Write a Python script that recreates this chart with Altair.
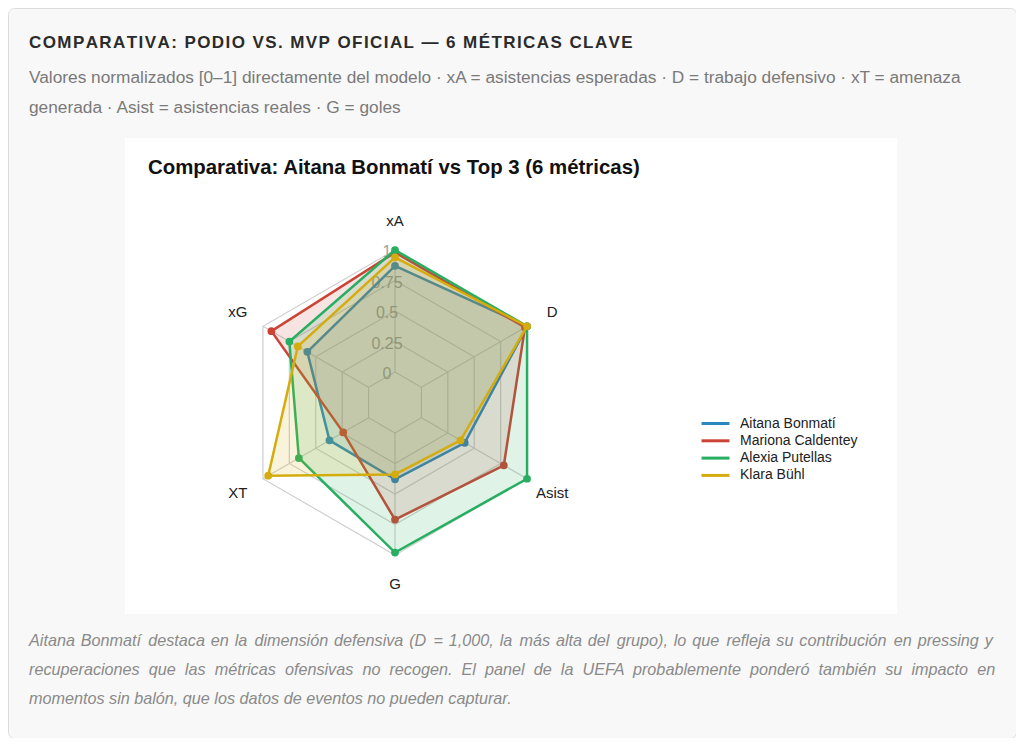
import altair as alt
import pandas as pd

# ---------------- data ----------------
metrics = ["xA", "D", "Asist", "G", "XT", "xG"]
players = ["Aitana Bonmatí", "Mariona Caldentey", "Alexia Putellas", "Klara Bühl"]
aitana = [0.87, 1.00, 0.41, 0.38, 0.37, 0.58]
mariona = [0.98, 0.98, 0.78, 0.71, 0.24, 0.92]
alexia = [1.00, 1.00, 1.00, 0.98, 0.66, 0.75]
klara = [0.94, 1.00, 0.37, 0.34, 0.95, 0.67]
colors = ["#2E86C1", "#CB4335", "#27AE60", "#D4AC0D"]
grid_levels = [0, 0.25, 0.5, 0.75, 1]
tick_labels = ["0", "0.25", "0.5", "0.75", "1"]

header = "COMPARATIVA: PODIO VS. MVP OFICIAL — 6 MÉTRICAS CLAVE"
subtitle = [
    "Valores normalizados [0–1] directamente del modelo · xA = asistencias esperadas · D = trabajo defensivo · xT = amenaza",
    "generada · Asist = asistencias reales · G = goles",
]
chart_title = "Comparativa: Aitana Bonmatí vs Top 3 (6 métricas)"
caption = [
    "Aitana Bonmatí destaca en la dimensión defensiva (D = 1,000, la más alta del grupo), lo que refleja su contribución en pressing y",
    "recuperaciones que las métricas ofensivas no recogen. El panel de la UEFA probablemente ponderó también su impacto en",
    "momentos sin balón, que los datos de eventos no pueden capturar.",
]

HAIR, THIN = "\u200a", "\u2009"
header_spaced = HAIR.join(header)          # emulates CSS letter-spacing


def widen(line, extra, every_other_extra=""):
    words = line.split(" ")
    out = words[0]
    for k, w in enumerate(words[1:]):
        gap = " " + extra + (every_other_extra if k % 3 == 1 else "")
        out += gap + w
    return out


caption_just = [                             # emulates justified text
    widen(caption[0], HAIR, HAIR),
    widen(caption[1], THIN + HAIR),
    caption[2],
]

series = dict(zip(players, [aitana, mariona, alexia, klara]))
n = len(metrics)
rows = []
for p, vals in series.items():
    for i in range(n + 1):
        rows.append({"player": p, "metric": metrics[i % n], "idx": i, "value": vals[i % n]})
df = pd.DataFrame(rows)

grid_df = pd.DataFrame([{"level": lv, "idx": i} for lv in grid_levels for i in range(n + 1)])
spoke_df = pd.DataFrame({"idx": list(range(n))})
tick_df = pd.DataFrame({"level": grid_levels, "label": tick_labels})
axis_df = pd.DataFrame({"metric": metrics, "idx": list(range(n))})
one = pd.DataFrame({"k": [0]})

R_MIN, R_MAX = -0.25, 1.0
FONT = "Liberation Sans"


def rad(field):
    return f"({field} - ({R_MIN})) / {R_MAX - R_MIN}"


xs = alt.Scale(domain=[-1, 1], range=[234.5, 539.5])
ys = alt.Scale(domain=[-1, 1], range=[547, 242])
X = alt.X("px:Q", scale=xs, axis=None)
Y = alt.Y("py:Q", scale=ys, axis=None)
X2 = alt.X2("px2:Q")
Y2 = alt.Y2("py2:Q")

# ---------------- decorations ----------------
white_box = alt.Chart(one).mark_rect(color="white").encode(
    x=alt.value(117), x2=alt.value(889), y=alt.value(130), y2=alt.value(606)
)

head_txt = alt.Chart(one).mark_text(
    align="left", baseline="alphabetic", font=FONT, fontSize=17, fontWeight="bold", color="#2b2b2b"
).encode(x=alt.value(21), y=alt.value(40), text=alt.value(header_spaced))

sub_txt = alt.Chart(one).mark_text(
    align="left", baseline="alphabetic", font=FONT, fontSize=17.3, color="#7a7a7a", lineHeight=30
).encode(x=alt.value(21), y=alt.value(75), text=alt.value(subtitle))

title_txt = alt.Chart(one).mark_text(
    align="left", baseline="alphabetic", font=FONT, fontSize=20.4, fontWeight="bold", color="#111111"
).encode(x=alt.value(140), y=alt.value(166), text=alt.value(chart_title))

cap_txt = alt.Chart(one).mark_text(
    align="left", baseline="alphabetic", font=FONT, fontSize=16.2, fontStyle="italic", color="#8a8a8a", lineHeight=29
).encode(x=alt.value(21), y=alt.value(638), text=alt.value(caption_just))

# ---------------- radar grid ----------------
grid = alt.Chart(grid_df).transform_calculate(
    r=rad("datum.level")
).transform_calculate(
    px="datum.r*sin(datum.idx*PI/3)", py="datum.r*cos(datum.idx*PI/3)"
).mark_line(color="#cfcfcf", strokeWidth=1.2).encode(
    x=X, y=Y, order="idx:Q", detail="level:N"
)

spokes = alt.Chart(spoke_df).transform_calculate(
    r0=rad("0"), r1=rad("1")
).transform_calculate(
    px="datum.r0*sin(datum.idx*PI/3)", py="datum.r0*cos(datum.idx*PI/3)",
    px2="datum.r1*sin(datum.idx*PI/3)", py2="datum.r1*cos(datum.idx*PI/3)",
).mark_rule(color="#cfcfcf", strokeWidth=1.2).encode(x=X, y=Y, x2=X2, y2=Y2)

ticks = alt.Chart(tick_df).transform_calculate(
    px="0", py=rad("datum.level")
).mark_text(font=FONT, fontSize=16, color="#a0a0a0", dx=-8, dy=2, align="center", baseline="middle").encode(
    x=X, y=Y, text="label:N"
)

axis_labels = alt.Chart(axis_df).transform_calculate(
    px="1.19*sin(datum.idx*PI/3)", py="1.19*cos(datum.idx*PI/3)"
).mark_text(font=FONT, fontSize=15, color="#222222", align="center", baseline="middle").encode(
    x=X, y=Y, text="metric:N"
)

# ---------------- players ----------------
cscale = alt.Scale(domain=players, range=colors)
legend = alt.Legend(
    title=None, orient="none", legendX=699, legendY=407, symbolType="M-2,0H2",
    symbolStrokeWidth=3, symbolSize=196, labelFont=FONT, labelFontSize=14,
    labelColor="#222222", rowPadding=1.3, padding=0, labelOffset=16,
)

player_layers = []
for p, c in zip(players, colors):
    base = alt.Chart(df).transform_filter(alt.datum.player == p).transform_calculate(
        r=rad("datum.value")
    ).transform_calculate(
        px="datum.r*sin(datum.idx*PI/3)", py="datum.r*cos(datum.idx*PI/3)"
    )
    line = base.mark_line(strokeWidth=2.5, fill=c, fillOpacity=0.15).encode(
        x=X, y=Y, order="idx:Q",
        color=alt.Color("player:N", scale=cscale, legend=legend),
    )
    pts = base.transform_filter(alt.datum.idx < n).mark_circle(size=60, opacity=1, color=c).encode(
        x=X, y=Y
    )
    player_layers += [line, pts]

chart = alt.layer(
    white_box, head_txt, sub_txt, title_txt, cap_txt,
    grid, spokes, ticks, axis_labels, *player_layers
).properties(
    width=1008, height=730, padding=0, autosize=alt.AutoSizeParams(type="none"),
    background="white",
).configure_view(
    fill="#f8f8f8", stroke="#dcdcdc", strokeWidth=1, cornerRadius=6
)

chart.save("out.html", embed_options={"renderer": "svg", "actions": False})
